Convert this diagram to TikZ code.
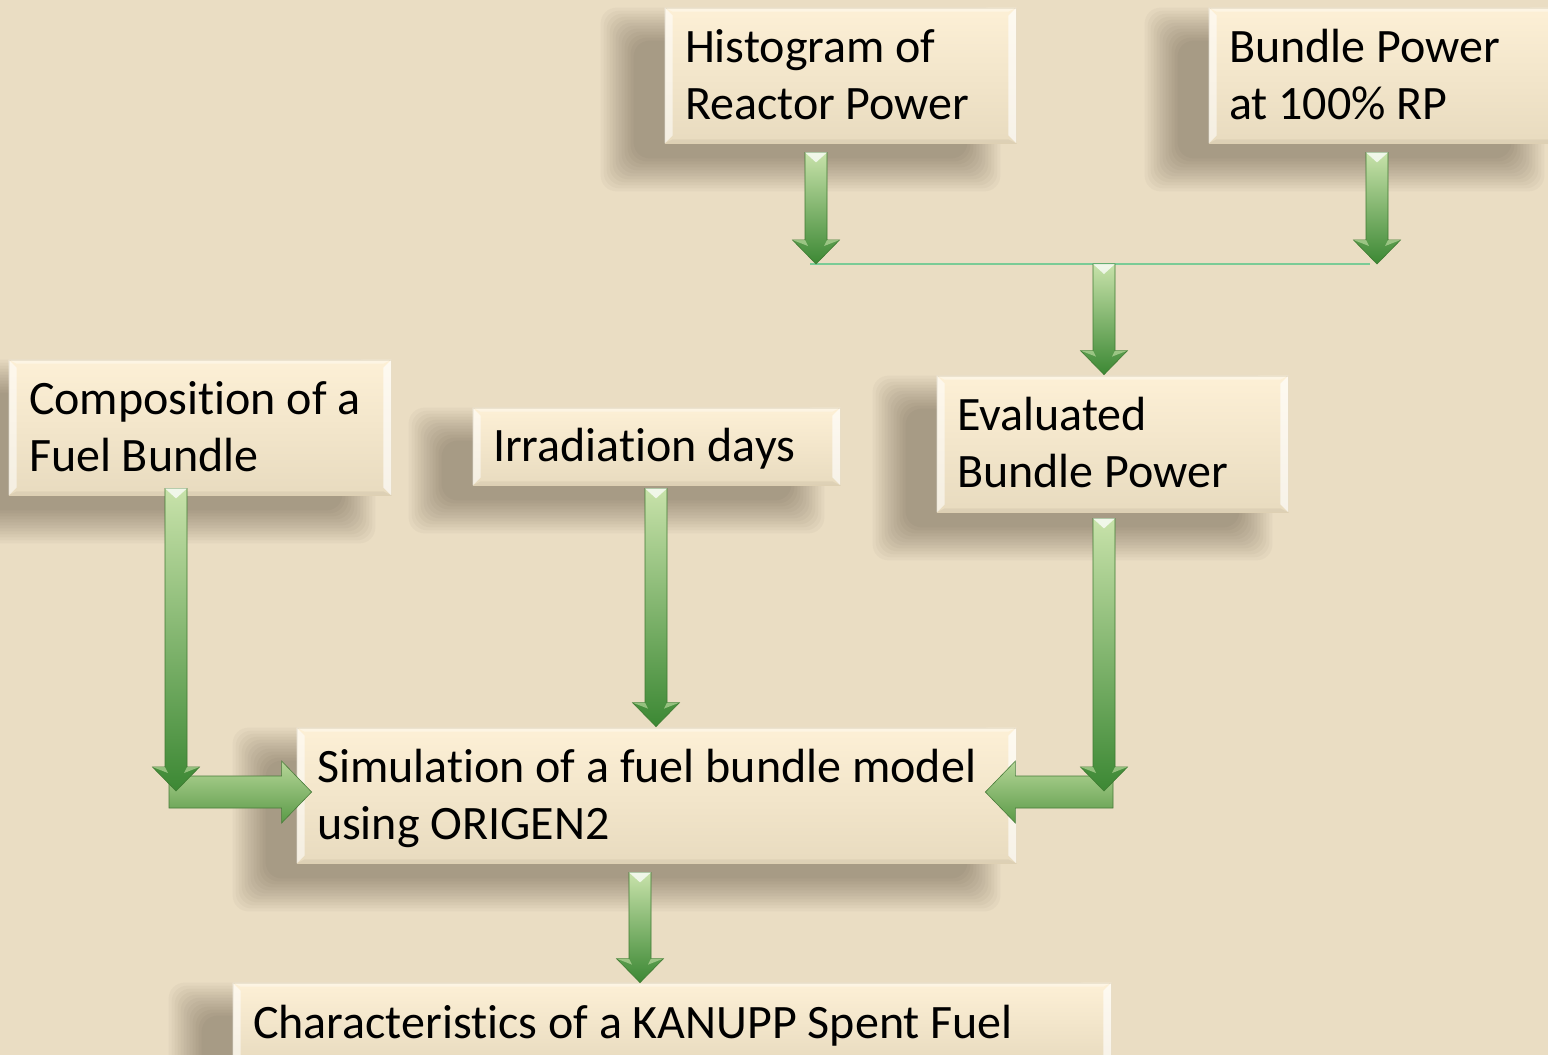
\documentclass[tikz,border=0pt]{standalone}
\usepackage{fontspec}
\setmainfont[Ligatures=NoCommon]{Carlito}
\usetikzlibrary{calc,backgrounds}
\definecolor{bg}{HTML}{EADDC3}
\definecolor{boxtop}{HTML}{FDF0D6}
\definecolor{boxbot}{HTML}{E8DBBF}
\definecolor{boxedge}{HTML}{E2D4B6}
\definecolor{shadowc}{HTML}{3A2E1E}
\definecolor{arrtop}{HTML}{C8E2AA}
\definecolor{arrbot}{HTML}{3C8834}
\definecolor{arredge}{HTML}{3F7A32}
\definecolor{harrtop}{HTML}{B6D698}
\definecolor{harrbot}{HTML}{5A9A47}
\definecolor{jlinec}{HTML}{7ACB96}
\newcommand\lstrut{\rule[-4.9pt]{0pt}{24.8pt}}
\tikzset{
  box/.style={rectangle, top color=boxtop, bottom color=boxbot, draw=boxedge,
    line width=0.4pt, inner xsep=10pt, inner ysep=0pt, align=left,
    font=\fontsize{24}{28.5}\selectfont,
    execute at begin node={\spaceskip=0.226em\relax\xspaceskip=0.226em\relax\lstrut},
    execute at end node=\lstrut},
  varr/.style={top color=arrtop, bottom color=arrbot, draw=arredge, line width=0.3pt},
  harr/.style={top color=harrtop, bottom color=harrbot, draw=harrbot!80!black, line width=0.3pt},
  jline/.style={draw=jlinec, line width=1pt},
}
\newcommand\boxshadow[1]{%
  \foreach \r in {24,21,...,-9}{%
    \fill[shadowc, opacity=0.034, rounded corners=8pt]
      ([shift={(-40-\r,24-\r)}]#1.north west) rectangle ([shift={(-40+\r,24+\r)}]#1.south east);
  }}
\newcommand\bevel[1]{%
  \fill[white,opacity=0.55] (#1.north west) -- ([shift={(8,8)}]#1.north west) -- ([shift={(8,-8)}]#1.south west) -- (#1.south west) -- cycle;
  \fill[white,opacity=0.65] (#1.north east) -- ([shift={(-8,8)}]#1.north east) -- ([shift={(-8,-8)}]#1.south east) -- (#1.south east) -- cycle;
  \fill[white,opacity=0.35] (#1.north west) -- ([shift={(8,4)}]#1.north west) -- ([shift={(-8,4)}]#1.north east) -- (#1.north east) -- cycle;
  \fill[shadowc,opacity=0.06] (#1.south west) -- ([shift={(8,-4)}]#1.south west) -- ([shift={(-8,-4)}]#1.south east) -- (#1.south east) -- cycle;
}
\newcommand\vArr[2]{%
  \path[varr] let \p1=#1, \p2=#2 in
    (\x1-5.5pt,\y1) -- (\x1+5.5pt,\y1) -- (\x1+5.5pt,\y2+12pt) -- (\x1+11.75pt,\y2+12pt)
    -- (\x1,\y2) -- (\x1-11.75pt,\y2+12pt) -- (\x1-5.5pt,\y2+12pt) -- cycle;
  \fill[white,opacity=0.75] let \p1=#1 in (\x1-5.5pt,\y1) -- (\x1+5.5pt,\y1) -- (\x1,\y1-5pt) -- cycle;
  \fill[arrtop,opacity=0.6] let \p1=#1, \p2=#2 in (\x1-11.75pt,\y2+12pt) -- (\x1-5.5pt,\y2+12pt) -- (\x1-4pt,\y2+9pt) -- cycle;
  \fill[arrtop,opacity=0.6] let \p1=#1, \p2=#2 in (\x1+11.75pt,\y2+12pt) -- (\x1+5.5pt,\y2+12pt) -- (\x1+4pt,\y2+9pt) -- cycle;
}
% #1 start, #2 tip, #3 direction (+1 right, -1 left)
\newcommand\hArr[3]{%
  \path[harr] let \p1=#1, \p2=#2 in
    (\x1,\y2+8pt) -- (\x2-#3*15pt,\y2+8pt) -- (\x2-#3*15pt,\y2+15.5pt) -- (\x2,\y2)
    -- (\x2-#3*15pt,\y2-15.5pt) -- (\x2-#3*15pt,\y2-8pt) -- (\x1,\y2-8pt) -- cycle;
}
\begin{document}
\begin{tikzpicture}[x=0.5pt,y=-0.5pt]
\useasboundingbox (0,0) rectangle (1548,1055);
\clip (0,0) rectangle (1548,1055);

\node[box, minimum width=175.5pt, minimum height=67.5pt, text width=155.5pt] (hist) at (840.5,75.5) {Histogram of\\Reactor Power};
\node[box, minimum width=175.5pt, minimum height=67.5pt, text width=155.5pt] (bpow) at (1384.5,75.5) {Bundle Power\\at 100\% RP};
\node[box, minimum width=191pt, minimum height=67.5pt, text width=171pt] (comp) at (200,427.5) {Composition of a\\Fuel Bundle};
\node[box, minimum width=183.5pt, minimum height=38.5pt, text width=163.5pt] (irr) at (656.5,446.5) {Irradiation days};
\node[box, minimum width=175.5pt, minimum height=68pt, text width=155.5pt] (eval) at (1112.5,444) {Evaluated\\Bundle Power};
\node[box, minimum width=359.5pt, minimum height=67.5pt, text width=339.5pt] (sim) at (656.5,795.5) {Simulation of a fuel bundle model\\using ORIGEN2};
\node[box, minimum width=439pt, minimum height=40pt, text width=419pt] (char) at (672,1023) {Characteristics of a KANUPP Spent Fuel};

\foreach \n in {hist,bpow,comp,irr,eval,sim,char}{\bevel{\n}}

\begin{scope}[on background layer]
  \fill[bg] (0,0) rectangle (1548,1055);
  \foreach \n in {hist,bpow,comp,irr,eval,sim,char}{\boxshadow{\n}}
\end{scope}

\coordinate (jL) at (816,264);
\coordinate (jR) at (1377,264);
\coordinate (jM) at (1104,264);
\coordinate (eR) at (1104,791);
\coordinate (cL) at (176,791);

% junction line
\draw[jline] ($(jL)+(-6,0)$) -- ($(jR)+(-7,0)$);

% top arrows
\vArr{($(hist.south)+(-24.5,9)$)}{(jL)}
\vArr{($(bpow.south)+(-7.5,9)$)}{(jR)}
\vArr{(jM)}{($(eval.north)+(-8.5,-1)$)}

% horizontal arrows into simulation
\hArr{($(cL)+(-7,0)$)}{($(sim.west)+(15,-3.5)$)}{1}
\hArr{($(eR)+(9,0)$)}{($(sim.east)+(-31,-3.5)$)}{-1}

% vertical arrows
\vArr{($(comp.south)+(-24,-7)$)}{(cL)}
\vArr{($(irr.south)+(-0.5,3)$)}{($(sim.north)+(-0.5,-1)$)}
\vArr{($(eval.south)+(-8.5,6)$)}{(eR)}
\vArr{($(sim.south)+(-16.5,9)$)}{($(char.north)+(-32,0)$)}
\end{tikzpicture}
\end{document}
